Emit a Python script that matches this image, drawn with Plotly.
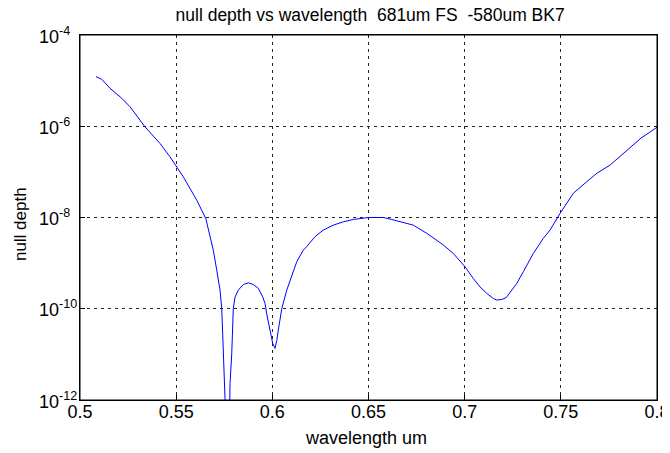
import plotly.graph_objects as go

wavelength = [0.5083, 0.5113, 0.5156, 0.5217, 0.526, 0.5338, 0.5416, 0.5468, 0.5537, 0.5607,
              0.5654, 0.5693, 0.5711, 0.5728, 0.5737, 0.5745, 0.5754, 0.5763, 0.5776, 0.578,
              0.5789, 0.5797, 0.5806, 0.5823, 0.5849, 0.5875, 0.5901, 0.5927, 0.595, 0.5962,
              0.5974, 0.5988, 0.6002, 0.6014, 0.6023, 0.6031, 0.6049, 0.6075, 0.6101, 0.6127,
              0.6161, 0.6179, 0.6222, 0.6265, 0.6317, 0.6369, 0.6421, 0.6456, 0.6499, 0.6543,
              0.6577, 0.6621, 0.6664, 0.6733, 0.6803, 0.6855, 0.6889, 0.6941, 0.7002, 0.7045,
              0.708, 0.7115, 0.7149, 0.7167, 0.7193, 0.7215, 0.7245, 0.7271, 0.7305, 0.7357,
              0.7409, 0.7444, 0.7496, 0.7565, 0.7635, 0.7687, 0.7756, 0.7843, 0.7917, 0.8]
null_depth = [1.22e-5, 1.07e-5, 6.8e-6, 4.1e-6, 2.68e-6, 9.7e-7, 4.2e-7, 2.14e-7, 7.8e-8, 2.4e-8,
              9.5e-9, 1.93e-9, 7.0e-10, 2.56e-10, 1.0e-10, 1.74e-11, 2.3e-12, 1e-13, 1e-13, 2.3e-12,
              1.05e-11, 1.0e-10, 1.8e-10, 2.56e-10, 3.4e-10, 3.7e-10, 3.4e-10, 2.8e-10, 1.82e-10, 1.3e-10,
              6.6e-11, 3.4e-11, 1.73e-11, 1.35e-11, 2.0e-11, 3.4e-11, 1.0e-10, 2.56e-10, 5.5e-10, 1.07e-9,
              1.93e-9, 2.3e-9, 3.8e-9, 5.3e-9, 6.8e-9, 8.05e-9, 9.05e-9, 9.55e-9, 1.0e-8, 1.0e-8,
              1.0e-8, 9.05e-9, 8.05e-9, 6.8e-9, 4.5e-9, 3.2e-9, 2.5e-9, 1.63e-9, 8.3e-10, 4.6e-10,
              3.0e-10, 2.17e-10, 1.68e-10, 1.55e-10, 1.6e-10, 1.74e-10, 2.56e-10, 3.6e-10, 6.5e-10, 1.63e-9,
              3.5e-9, 5.3e-9, 1.23e-8, 3.4e-8, 6.1e-8, 9.3e-8, 1.41e-7, 3.0e-7, 5.5e-7, 9.5e-7]

x_ticks = [0.5, 0.55, 0.6, 0.65, 0.7, 0.75, 0.8]
x_labels = ["0.5", "0.55", "0.6", "0.65", "0.7", "0.75", "0.8"]
y_ticks = [1e-12, 1e-10, 1e-8, 1e-6, 1e-4]
y_exponents = [-12, -10, -8, -6, -4]
y_labels = ["10<sup>-12</sup>", "10<sup>-10</sup>", "10<sup>-8</sup>", "10<sup>-6</sup>", "10<sup>-4</sup>"]

font = "Liberation Sans, Arial, sans-serif"
FS = 18

fig = go.Figure()
fig.add_trace(go.Scatter(x=wavelength, y=null_depth, mode="lines",
                         line=dict(color="#0000ff", width=1), showlegend=False))

axis_common = dict(showline=True, linecolor="black", linewidth=1, mirror=True,
                   ticks="inside", ticklen=5, tickcolor="black",
                   showgrid=True, gridcolor="#222", gridwidth=1, griddash="3px,4px",
                   zeroline=False, automargin=False,
                   tickfont=dict(family=font, size=FS, color="black"))

fig.update_xaxes(range=[0.5, 0.8], tickvals=x_ticks, ticktext=x_labels,
                 ticklabelstandoff=-5, **axis_common)
fig.update_yaxes(type="log", range=[-12, -4], tickvals=y_ticks, ticktext=y_labels,
                 showticklabels=False, **axis_common)

# y tick labels, left-aligned as in the reference
for e, lab in zip(y_exponents, y_labels):
    fig.add_annotation(text=lab, xref="paper", yref="y", x=-0.0745, y=e,
                       xanchor="left", yanchor="middle", showarrow=False,
                       font=dict(family=font, size=FS, color="black"))

fig.add_annotation(text="null depth", xref="paper", yref="paper", x=-0.104, y=0.482,
                   xanchor="center", yanchor="middle", textangle=-90, showarrow=False,
                   font=dict(family=font, size=FS - 1, color="black"))
fig.add_annotation(text="wavelength um", xref="paper", yref="paper", x=0.495, y=-0.104,
                   xanchor="center", yanchor="middle", showarrow=False,
                   font=dict(family=font, size=FS, color="black"))

fig.add_shape(type="rect", xref="paper", yref="paper", x0=0, y0=0, x1=1, y1=1,
              line=dict(color="black", width=1), layer="above")

# the page body adds an 8px margin, so the figure is 8px smaller than the window
fig.update_layout(
    width=662, height=445,
    margin=dict(l=72, r=13, t=27, b=53),
    paper_bgcolor="white", plot_bgcolor="white",
    title=dict(text="null depth vs wavelength  681um FS  -580um BK7",
               font=dict(family=font, size=FS - 0.5, color="black"),
               x=0.547, xanchor="center", y=0.998, yanchor="top"),
)

fig.write_html("out.html")
